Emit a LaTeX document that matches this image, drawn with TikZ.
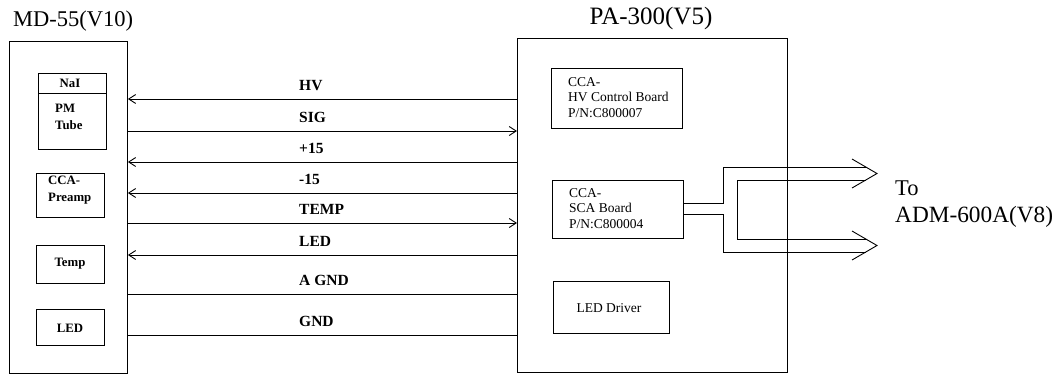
\documentclass[tikz,border=0pt]{standalone}
\usepackage{fontspec}
\setmainfont{Liberation Serif}
\usetikzlibrary{arrows.meta}
\tikzset{
  box/.style={draw, line width=0.9pt, inner sep=0pt, anchor=north west},
  wire/.style={line width=0.9pt},
  tipL/.style={{Straight Barb[length=7pt,width=9pt,line width=0.9pt]}-},
  tipR/.style={-{Straight Barb[length=7pt,width=9pt,line width=0.9pt]}},
  sig/.style={font=\fontsize{15.5}{17}\selectfont\bfseries, anchor=base west, inner sep=0pt},
  title/.style={font=\fontsize{22.5}{26}\selectfont, anchor=base west, inner sep=0pt},
  small/.style={font=\fontsize{13.5}{15.5}\selectfont, align=left, anchor=north west, inner sep=0pt},
  smallb/.style={font=\fontsize{12.8}{17}\selectfont\bfseries, align=left, inner sep=0pt},
}
\begin{document}
\begin{tikzpicture}[x=1pt,y=-1pt]
\useasboundingbox (0,0) rectangle (1063,376);
% main boxes
\node[box, minimum width=118pt, minimum height=332pt] (md) at (9,41) {};
\node[box, minimum width=270pt, minimum height=334pt] (pa) at (517,38) {};
\node[title] (mdt) at (13,26) {MD-55(V10)};
\node[title, anchor=base, font=\fontsize{25}{28}\selectfont] (pat) at (651,24) {PA-300(V5)};
% left inner boxes
\node[box, minimum width=68pt, minimum height=76pt] (pm) at (38,73) {};
\draw[line width=0.9pt] (38,93) -- (106,93);
\node[smallb] (nai) at (70,83.5) {NaI};
\node[smallb, anchor=north west] (pmt) at (55,104) {PM\\Tube};
\node[box, minimum width=68pt, minimum height=44pt] (pre) at (36,173) {};
\node[smallb, anchor=north west] (pret) at (48,176) {CCA-\\Preamp};
\node[box, minimum width=68pt, minimum height=38pt] (tmp) at (36,245) {};
\node[smallb] (tmpt) at (70,264) {Temp};
\node[box, minimum width=68pt, minimum height=36pt] (led) at (36,309) {};
\node[smallb] (ledt) at (70,328) {LED};
% right inner boxes
\node[box, minimum width=131pt, minimum height=60pt] (hvb) at (551,68) {};
\node[small] (hvt) at (568,77) {CCA-\\HV Control Board\\P/N:C800007};
\node[box, minimum width=131pt, minimum height=58pt] (sca) at (552,180) {};
\node[small] (scat) at (569,188) {CCA-\\SCA Board\\P/N:C800004};
\node[box, minimum width=116pt, minimum height=52pt] (ldd) at (553,281) {};
\node[font=\fontsize{13.5}{15}\selectfont, inner sep=0pt] (lddt) at (609,308) {LED Driver};
% signal wires
\foreach \n/\y in {hv/99, sig/131, pp/162, mm/193, te/223, le/255, ag/294, gn/335}{
  \coordinate (\n L) at (md.east |- 0,\y);
  \coordinate (\n R) at (pa.west |- 0,\y);
}
\draw[wire, tipL] (hvL) -- (hvR);
\draw[wire, tipR] (sigL) -- (sigR);
\draw[wire, tipL] (ppL) -- (ppR);
\draw[wire, tipL] (mmL) -- (mmR);
\draw[wire, tipR] (teL) -- (teR);
\draw[wire, tipL] (leL) -- (leR);
\draw[wire] (agL) -- (agR);
\draw[wire] (gnL) -- (gnR);
\node[sig] (l1) at (299,90) {HV};
\node[sig] (l2) at (299,122) {SIG};
\node[sig] (l3) at (299,153) {+15};
\node[sig] (l4) at (299,184) {-15};
\node[sig] (l5) at (299,214) {TEMP};
\node[sig] (l6) at (299,246) {LED};
\node[sig] (l7) at (299,285) {A GND};
\node[sig] (l8) at (299,326) {GND};
% hollow output arrows
\coordinate (s1) at (sca.east |- 0,203);
\coordinate (s2) at (sca.east |- 0,214);
\draw[wire, line join=miter] (s1) -- (723,203) -- (723,167) -- (866,167);
\draw[wire, line join=miter] (s2) -- (723,214) -- (723,252) -- (866,252);
\draw[wire, line join=miter] (866,180) -- (737,180) -- (737,239) -- (866,239);
\draw[wire, line join=miter] (852,159) -- (877,173.5) -- (852,188);
\draw[wire, line join=miter] (852,231) -- (877,245.5) -- (852,260);
\node[title] (to1) at (895,195) {To};
\node[title, font=\fontsize{23.3}{26}\selectfont] (to2) at (895,222) {ADM-600A(V8)};
\end{tikzpicture}
\end{document}
